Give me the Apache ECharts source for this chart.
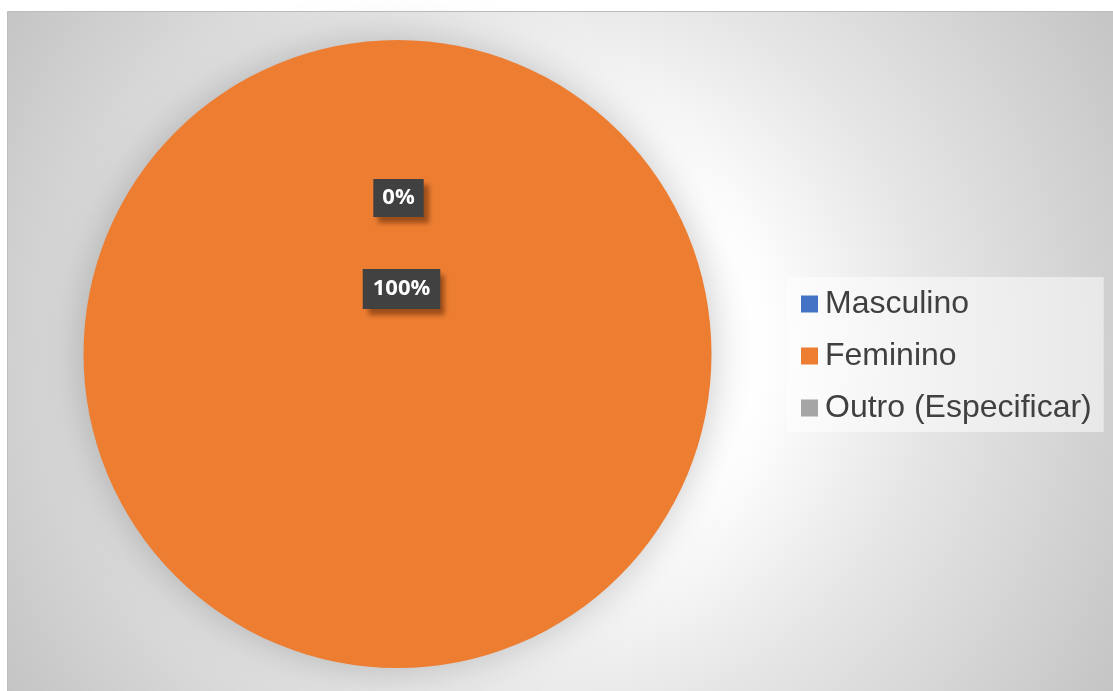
<!DOCTYPE html>
<html>
<head>
<meta charset="utf-8">
<script src="https://cdn.jsdelivr.net/npm/echarts@6/dist/echarts.min.js"></script>
<style>
html,body{margin:0;padding:0;background:#ffffff;}
#chart{width:1113px;height:691px;}
</style>
</head>
<body>
<div id="chart"></div>
<script>
const categories = ['Masculino', 'Feminino', 'Outro (Especificar)'];
const values = [0, 100, 0];
const colors = ['#4472C4', '#ED7D31', '#A5A5A5'];

const chart = echarts.init(document.getElementById('chart'), null, {renderer: 'canvas'});

const labelBox = {
  color: '#ffffff',
  fontFamily: 'Open Sans',
  fontWeight: 'bold',
  fontSize: 22,
  lineHeight: 23,
  backgroundColor: '#414141',
  padding: [8, 9, 7, 9],
  shadowColor: 'rgba(70,25,0,0.5)',
  shadowBlur: 5,
  shadowOffsetX: 5,
  shadowOffsetY: 6,
  formatter: '{d}%'
};

const data = categories.map((name, i) => {
  const item = {name: name, value: values[i], itemStyle: {color: colors[i]}};
  if (i === 0) item.label = {position: 'inside'};
  else if (i === 1) item.label = {position: 'center', padding: [9, 10, 8, 10]};
  else item.label = {show: false};
  return item;
});

chart.setOption({
  animation: false,
  graphic: [
    {
      type: 'rect',
      z: -100,
      silent: true,
      shape: {x: 7.5, y: 11.5, width: 1115, height: 690},
      style: {
        fill: {
          type: 'radial', global: true, x: 560, y: 351, r: 660,
          colorStops: [
            {offset: 0, color: '#ffffff'},
            {offset: 0.3, color: '#ffffff'},
            {offset: 0.56, color: '#e6e6e6'},
            {offset: 0.66, color: '#dedede'},
            {offset: 1, color: '#c3c3c3'}
          ]
        },
        stroke: '#bdbdbd',
        lineWidth: 1
      }
    }
  ],
  legend: {
    orient: 'vertical',
    left: 787,
    top: 277,
    padding: [11, 12, 8, 14],
    itemGap: 20,
    itemWidth: 17,
    itemHeight: 17,
    icon: 'rect',
    selectedMode: false,
    backgroundColor: 'rgba(255,255,255,0.5)',
    data: categories,
    textStyle: {
      fontFamily: 'Liberation Sans',
      fontSize: 32,
      lineHeight: 32,
      color: '#404040',
      padding: [0, 0, 0, 2]
    }
  },
  series: [{
    type: 'pie',
    center: [397.5, 354],
    radius: 314,
    startAngle: 90,
    clockwise: true,
    avoidLabelOverlap: false,
    silent: true,
    data: data,
    label: labelBox,
    labelLine: {show: false},
    labelLayout: function (p) {
      return p.dataIndex === 1 ? {dx: 4, dy: -65} : {dx: 1, dy: 4};
    },
    itemStyle: {
      shadowBlur: 40,
      shadowColor: 'rgba(0,0,0,0.22)'
    },
    emphasis: {disabled: true}
  }]
});
</script>
</body>
</html>
